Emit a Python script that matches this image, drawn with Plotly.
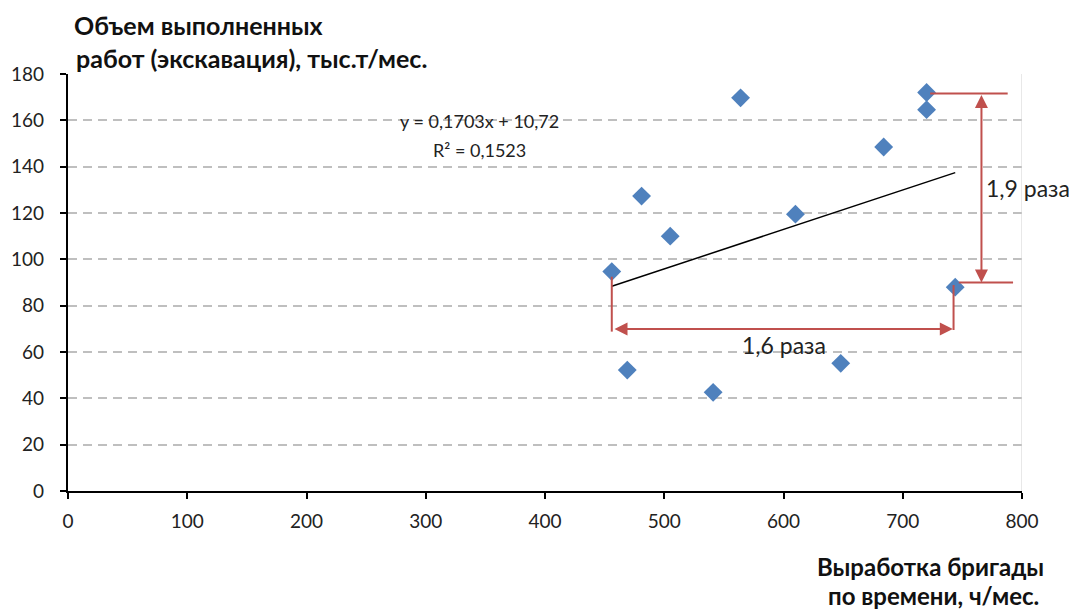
import plotly.graph_objects as go

# Data
brigade_output = [456, 469, 481, 505, 541, 564, 610, 648, 684, 720, 720, 744]   # ч/мес.
work_volume = [94.7, 52.2, 127.3, 110.0, 42.6, 169.7, 119.5, 55.1, 148.5, 172.0, 164.6, 88.0]  # тыс.т/мес.

trend_slope = 0.1703
trend_intercept = 10.72
trend_r2 = 0.1523

x_ticks = [0, 100, 200, 300, 400, 500, 600, 700, 800]
y_ticks = [0, 20, 40, 60, 80, 100, 120, 140, 160, 180]

RED = "#C0504D"
BLUE = "#4F81BD"
FONT = "Lato"

fig = go.Figure()

fig.add_trace(go.Scatter(
    x=brigade_output, y=work_volume, mode="markers",
    marker=dict(symbol="diamond", size=14.5, color=BLUE, line=dict(width=0)),
    showlegend=False, hoverinfo="x+y"))

x_min, x_max = min(brigade_output), max(brigade_output)
fig.add_trace(go.Scatter(
    x=[x_min, x_max],
    y=[trend_slope * x_min + trend_intercept, trend_slope * x_max + trend_intercept],
    mode="lines", line=dict(color="black", width=1.5), showlegend=False, hoverinfo="skip"))

def fmt(v):
    return str(v).replace(".", ",")

# page offset of the figure (body margin)
OFF = 8
W, H = 1077 - OFF, 610 - OFF
L, T = 68 - OFF, 74 - OFF
R = W - (1022 - OFF)
B = H - (491 - OFF)
pw, ph = W - L - R, H - T - B

def px(x):
    return (x - OFF - L) / pw

def py(y):
    return (H - B - (y - OFF)) / ph

annotations = [
    dict(x=345, y=159.5, xref="x", yref="y", showarrow=False,
         text=f"y = {fmt(trend_slope)}x + {fmt(trend_intercept)}",
         font=dict(family=FONT, size=18, color="#222")),
    dict(x=345, y=147.3, xref="x", yref="y", showarrow=False,
         text=f"R² = {fmt(trend_r2)}",
         font=dict(family=FONT, size=18, color="#222")),
    # horizontal double arrow
    dict(x=742, y=69.9, ax=457, ay=69.9, xref="x", yref="y", axref="x", ayref="y",
         text="", showarrow=True, arrowhead=2, startarrowhead=2, arrowside="end+start",
         arrowsize=1.3, startarrowsize=1.3, arrowwidth=2, arrowcolor=RED, standoff=0, startstandoff=0),
    dict(x=600, y=63, xref="x", yref="y", showarrow=False, text="1,6 раза",
         font=dict(family=FONT, size=23, color="#222")),
    # vertical double arrow
    dict(x=766, y=90, ax=766, ay=171.6, xref="x", yref="y", axref="x", ayref="y",
         text="", showarrow=True, arrowhead=2, startarrowhead=2, arrowside="end+start",
         arrowsize=1.3, startarrowsize=1.3, arrowwidth=2, arrowcolor=RED, standoff=0, startstandoff=0),
    dict(x=768, y=130.8, xref="x", yref="y", xanchor="left", showarrow=False, text="1,9 раза",
         font=dict(family=FONT, size=23, color="#222")),
    # axis titles
    dict(x=px(72), y=py(25), xref="paper", yref="paper", xanchor="left", yanchor="middle",
         showarrow=False, text="<b>Объем выполненных</b>",
         font=dict(family=FONT, size=25, color="#111")),
    dict(x=px(74), y=py(58), xref="paper", yref="paper", xanchor="left", yanchor="middle",
         showarrow=False, text="<b>работ (экскавация), тыс.т/мес.</b>",
         font=dict(family=FONT, size=25, color="#111")),
    dict(x=px(1046), y=py(566), xref="paper", yref="paper", xanchor="right", yanchor="middle",
         showarrow=False, text="<b>Выработка бригады</b>",
         font=dict(family=FONT, size=24, color="#111")),
    dict(x=px(1041), y=py(595), xref="paper", yref="paper", xanchor="right", yanchor="middle",
         showarrow=False, text="<b>по времени, ч/мес.</b>",
         font=dict(family=FONT, size=24, color="#111")),
]

shapes = [
    # right border of plot area
    dict(type="line", xref="x", yref="y", x0=800, x1=800, y0=0, y1=180,
         line=dict(color="#D0D0D0", width=1)),
    # red guide lines
    dict(type="line", xref="x", yref="y", x0=456, x1=456, y0=92.5, y1=68.8,
         line=dict(color=RED, width=2)),
    dict(type="line", xref="x", yref="y", x0=742.6, x1=742.6, y0=88.9, y1=69.5,
         line=dict(color=RED, width=2)),
    dict(type="line", xref="x", yref="y", x0=723, x1=788, y0=171.6, y1=171.6,
         line=dict(color=RED, width=2)),
    dict(type="line", xref="x", yref="y", x0=747, x1=792.5, y0=90, y1=90,
         line=dict(color=RED, width=2)),
]

fig.update_layout(
    width=W, height=H,
    margin=dict(l=L, r=R, t=T, b=B, pad=0, autoexpand=False),
    paper_bgcolor="white", plot_bgcolor="white",
    font=dict(family=FONT, size=19, color="#222"),
    annotations=annotations, shapes=shapes,
    xaxis=dict(range=[0, 800], tickvals=x_ticks, ticktext=[str(v) for v in x_ticks],
               automargin=False,
               showgrid=False, zeroline=False, showline=True, linecolor="black", linewidth=2.2,
               ticks="outside", ticklen=6, tickwidth=2, tickcolor="black",
               tickfont=dict(family=FONT, size=19, color="#222"), ticklabelstandoff=6),
    yaxis=dict(range=[0, 180], tickvals=y_ticks, ticktext=[str(v) for v in y_ticks],
               automargin=False,
               showgrid=True, gridcolor="#BFBFBF", gridwidth=1.8, griddash="9px,6px",
               zeroline=False, showline=True, linecolor="black", linewidth=2.2,
               ticks="outside", ticklen=6, tickwidth=2, tickcolor="black",
               tickfont=dict(family=FONT, size=19, color="#222"), ticklabelstandoff=12),
)

fig.write_html("out.html")
